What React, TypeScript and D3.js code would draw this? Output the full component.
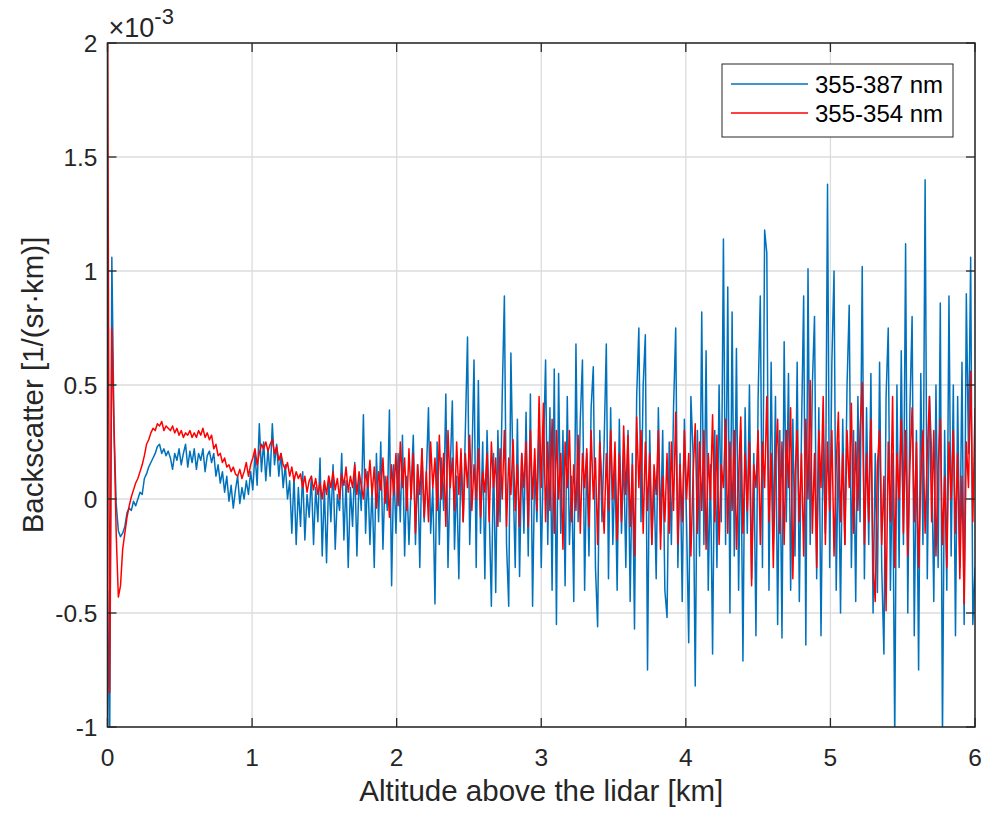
import React from 'react';
import * as d3 from 'd3';

// altitude grid step of the profiles [km]
const altStep = 0.015;

// 355-387 nm backscatter (x1e-3 1/(sr km)), one value per altStep
const blueVals = [
  -0.4, -1.1, 1.06, 0.32, -0.02, -0.14, -0.165, -0.15, -0.12, -0.06, -0.04, -0.05, -0.01, -0.03, 0.0, 0.03, 0.02, 0.09, 0.11, 0.14,
  0.16, 0.18, 0.2, 0.23, 0.24, 0.2, 0.22, 0.19, 0.21, 0.18, 0.13, 0.2, 0.17, 0.22, 0.15, 0.2, 0.24, 0.14, 0.21, 0.16,
  0.22, 0.13, 0.2, 0.17, 0.22, 0.12, 0.19, 0.21, 0.16, 0.2, 0.1, 0.15, 0.07, 0.12, 0.03, 0.1, -0.01, 0.06, -0.04, 0.04,
  0.1, -0.02, 0.05, 0.0, 0.08, 0.02, 0.12, 0.04, 0.2, 0.06, 0.33, 0.12, 0.25, 0.08, 0.22, 0.1, 0.33, 0.15, 0.24, 0.1,
  0.2, 0.05, 0.15, 0.0, 0.08, -0.15, 0.1, -0.2, 0.05, -0.12, 0.12, -0.18, 0.02, -0.08, 0.1, -0.2, 0.05, -0.1, 0.18, -0.25,
  0.05, -0.28, 0.1, -0.1, 0.15, -0.22, 0.02, -0.05, 0.2, -0.18, 0.08, -0.3, 0.05, -0.12, 0.16, -0.25, 0.1, -0.05, 0.37, -0.15,
  0.12, -0.2, 0.05, -0.3, 0.2, -0.1, 0.25, -0.22, 0.1, -0.05, 0.39, -0.38, 0.15, -0.15, 0.2, -0.1, 0.28, -0.25, 0.1, -0.2,
  0.05, 0.28, -0.2, 0.15, -0.3, 0.22, -0.1, 0.1, 0.4, -0.15, 0.05, -0.46, 0.25, -0.2, 0.18, -0.05, 0.46, -0.3, 0.12, 0.43,
  -0.22, 0.1, -0.35, 0.2, -0.1, 0.3, 0.71, -0.2, 0.15, 0.61, -0.3, 0.52, -0.15, 0.25, -0.35, 0.3, -0.05, -0.47, 0.2, -0.41,
  0.3, -0.1, 0.45, 0.89, -0.2, -0.47, 0.64, 0.1, -0.3, 0.35, -0.34, 0.2, -0.15, 0.38, -0.25, 0.46, -0.47, 0.15, -0.1, 0.35,
  -0.3, 0.2, 0.61, -0.2, 0.4, -0.4, 0.57, -0.55, 0.55, -0.15, 0.3, -0.38, 0.45, -0.2, 0.1, -0.45, 0.68, -0.1, 0.35, 0.61,
  -0.4, 0.2, -0.25, 0.4, 0.58, -0.3, -0.56, 0.3, -0.1, 0.25, 0.68, -0.35, 0.4, -0.2, 0.15, -0.4, 0.35, -0.15, 0.2, -0.3,
  0.3, -0.45, 0.2, -0.57, 0.45, 0.75, -0.1, 0.5, 0.72, -0.75, 0.3, -0.2, 0.1, -0.35, 0.4, -0.15, 0.3, -0.4, -0.52, 0.25,
  -0.2, 0.4, 0.75, -0.3, 0.2, -0.45, 0.35, -0.1, -0.63, 0.45, 0.2, -0.82, 0.3, -0.25, 0.82, -0.2, 0.65, -0.4, 0.15, -0.68,
  0.3, -0.3, 0.5, -0.1, 1.14, -0.2, 0.93, -0.5, 0.82, -0.25, 0.66, -0.4, 0.3, -0.71, 0.4, -0.15, 0.5, -0.35, 0.2, -0.6,
  0.45, 0.89, -0.3, 1.18, 1.08, -0.4, 0.6, -0.2, 0.45, -0.55, 0.3, -0.61, 0.69, -0.1, 0.55, -0.4, 0.35, -0.25, 0.6, -0.45,
  0.3, 0.89, -0.64, 1.01, -0.2, 0.5, 0.8, -0.35, 0.4, -0.6, 0.3, -0.15, 1.38, -0.3, 0.6, 1.0, -0.4, 0.25, -0.5, 0.35,
  -0.2, 0.5, 0.85, -0.3, 0.3, -0.45, 0.45, -0.1, 1.02, -0.35, 0.4, -0.2, 0.55, -0.5, 0.2, -0.41, 0.6, -0.3, -0.68, 0.45,
  0.75, -0.4, 0.2, -1.05, 0.5, -0.3, 0.65, -0.2, 1.12, -0.5, 0.4, 0.8, -0.6, 0.3, -0.75, 0.55, -0.2, 1.4, -0.35, 0.45,
  0.2, -0.45, 0.5, -0.3, 0.86, -1.05, 0.3, -0.4, 0.89, -0.25, 0.5, -0.6, 0.45, -0.3, 0.6, -0.55, 0.9, 0.2, 1.06, -0.55,
  -0.3,
];

// 355-354 nm backscatter (x1e-3 1/(sr km))
const redVals = [
  2.3, -0.85, 0.75, 0.3, -0.15, -0.43, -0.38, -0.22, -0.15, -0.08, -0.03, 0.01, 0.04, 0.07, 0.09, 0.12, 0.15, 0.19, 0.24, 0.26,
  0.29, 0.31, 0.3, 0.33, 0.32, 0.34, 0.3, 0.32, 0.31, 0.3, 0.32, 0.29, 0.31, 0.28, 0.3, 0.27, 0.29, 0.28, 0.3, 0.27,
  0.29, 0.27, 0.3, 0.28, 0.31, 0.27, 0.29, 0.26, 0.28, 0.22, 0.24, 0.19, 0.2, 0.16, 0.18, 0.14, 0.15, 0.12, 0.14, 0.11,
  0.1, 0.13, 0.09, 0.12, 0.16, 0.1, 0.15, 0.18, 0.22, 0.15, 0.2, 0.24, 0.22, 0.25, 0.21, 0.24, 0.26, 0.2, 0.23, 0.17,
  0.2, 0.15, 0.13, 0.16, 0.1, 0.14, 0.08, 0.12, 0.09, 0.11, 0.05, 0.1, 0.03, 0.08, 0.1, 0.04, 0.09, 0.02, 0.07, 0.0,
  0.08, 0.02, 0.1, 0.05, 0.12, 0.04, 0.09, 0.0, 0.11, 0.06, 0.14, 0.03, 0.1, 0.05, 0.15, 0.02, 0.12, 0.06, 0.0, 0.13,
  0.05, 0.17, 0.02, 0.14, -0.04, 0.12, 0.04, 0.18, -0.02, 0.1, -0.08, 0.15, 0.02, 0.2, -0.03, 0.25, 0.05, 0.18, -0.05, 0.22,
  0.0, 0.2, -0.15, 0.15, 0.02, 0.22, -0.08, 0.12, -0.1, 0.25, 0.05, 0.18, -0.05, 0.28, 0.0, 0.2, -0.12, 0.3, 0.05, 0.18,
  -0.05, 0.25, 0.02, 0.22, -0.1, 0.2, 0.05, 0.28, -0.05, 0.15, 0.0, 0.22, -0.08, 0.12, 0.03, 0.2, -0.1, 0.25, 0.05, 0.18,
  -0.12, 0.22, 0.0, 0.3, -0.12, 0.18, 0.02, 0.26, -0.05, 0.15, -0.12, 0.2, 0.05, 0.25, -0.12, 0.3, 0.0, 0.22, -0.05, 0.45,
  0.05, 0.42, -0.1, 0.25, -0.05, 0.35, -0.15, 0.3, 0.0, 0.2, -0.22, 0.25, 0.05, 0.3, -0.1, 0.15, -0.05, 0.28, -0.15, 0.2,
  0.05, 0.22, -0.12, 0.3, 0.0, 0.18, -0.2, 0.25, 0.05, -0.15, 0.2, -0.05, 0.3, 0.0, 0.25, -0.18, 0.2, -0.1, 0.32, 0.02,
  0.28, -0.12, 0.15, -0.25, 0.36, 0.05, 0.3, -0.15, 0.25, -0.05, 0.2, -0.2, 0.15, 0.02, 0.3, -0.22, 0.1, -0.1, 0.2, -0.15,
  0.25, -0.05, 0.38, -0.2, 0.15, -0.1, 0.3, 0.0, 0.2, -0.25, 0.1, 0.33, -0.15, 0.25, -0.05, 0.3, -0.22, 0.2, 0.0, 0.37,
  -0.1, 0.28, -0.2, 0.15, 0.05, 0.35, -0.15, 0.25, -0.05, 0.3, -0.22, 0.1, 0.36, -0.15, 0.2, -0.05, 0.25, -0.38, 0.15, 0.05,
  0.3, -0.2, 0.25, 0.05, 0.45, -0.1, 0.2, -0.3, 0.15, 0.35, -0.15, 0.25, -0.2, 0.3, 0.05, 0.4, -0.35, 0.1, 0.3, -0.1,
  0.2, -0.25, 0.35, 0.0, 0.52, -0.15, 0.2, -0.3, 0.3, 0.05, 0.45, -0.2, 0.25, -0.05, 0.3, -0.25, 0.15, 0.38, -0.1, 0.2,
  -0.2, 0.3, 0.05, 0.42, -0.15, 0.25, -0.05, 0.3, 0.51, -0.2, 0.2, -0.1, 0.35, -0.3, -0.45, 0.15, 0.3, -0.2, 0.1, -0.49,
  0.25, -0.1, 0.45, -0.3, 0.2, 0.0, 0.35, -0.15, 0.3, -0.25, 0.15, 0.4, -0.1, 0.25, -0.3, 0.1, 0.3, -0.15, 0.2, 0.45,
  -0.1, 0.3, -0.25, 0.15, 0.35, -0.2, 0.1, -0.3, 0.25, 0.0, 0.3, -0.15, 0.2, -0.35, 0.1, -0.46, 0.25, 0.05, 0.56, -0.1,
  0.4,
];

const xTicks = [0, 1, 2, 3, 4, 5, 6];
const yTicks = [-1, -0.5, 0, 0.5, 1, 1.5, 2];
const seriesNames = ['355-387 nm', '355-354 nm'];
const seriesColors = ['#0072BD', '#FF0000'];

const W = 987;
const H = 816;
const m = { left: 107.5, right: 975, top: 43, bottom: 727 };
const font = '"Liberation Sans", Arial, Helvetica, sans-serif';

const App = () => {
  const x = d3.scaleLinear().domain([0, 6]).range([m.left, m.right]);
  const y = d3.scaleLinear().domain([-1, 2]).range([m.bottom, m.top]);

  const line = d3.line<number>()
    .x((_, i) => x(i * altStep))
    .y(d => y(d));

  const tick = 9;
  const axisColor = '#262626';

  return (
    <div style={{ position: 'absolute', left: 0, top: 0 }}>
      <svg width={W} height={H} style={{ display: 'block', background: '#fff' }} fontFamily={font}>
        <defs>
          <clipPath id="plotArea">
            <rect x={m.left} y={m.top} width={m.right - m.left} height={m.bottom - m.top} />
          </clipPath>
        </defs>

        {/* grid */}
        {xTicks.map(t => (
          <line key={'gx' + t} x1={x(t)} x2={x(t)} y1={m.top} y2={m.bottom} stroke="#dcdcdc" strokeWidth={1.3} />
        ))}
        {yTicks.map(t => (
          <line key={'gy' + t} x1={m.left} x2={m.right} y1={y(t)} y2={y(t)} stroke="#dcdcdc" strokeWidth={1.3} />
        ))}

        {/* data */}
        <g clipPath="url(#plotArea)">
          <path d={line(blueVals) || ''} fill="none" stroke={seriesColors[0]} strokeWidth={1.5} strokeLinejoin="round" />
          <path d={line(redVals) || ''} fill="none" stroke={seriesColors[1]} strokeWidth={1.5} strokeLinejoin="round" />
        </g>

        {/* ticks (inward, mirrored) */}
        {xTicks.map(t => (
          <g key={'tx' + t} stroke={axisColor} strokeWidth={1.3}>
            <line x1={x(t)} x2={x(t)} y1={m.bottom} y2={m.bottom - tick} />
            <line x1={x(t)} x2={x(t)} y1={m.top} y2={m.top + tick} />
          </g>
        ))}
        {yTicks.map(t => (
          <g key={'ty' + t} stroke={axisColor} strokeWidth={1.3}>
            <line x1={m.left} x2={m.left + tick} y1={y(t)} y2={y(t)} />
            <line x1={m.right} x2={m.right - tick} y1={y(t)} y2={y(t)} />
          </g>
        ))}

        {/* box */}
        <rect x={m.left} y={m.top} width={m.right - m.left} height={m.bottom - m.top}
          fill="none" stroke={axisColor} strokeWidth={1.5} />

        {/* tick labels */}
        {xTicks.map(t => (
          <text key={'lx' + t} x={x(t)} y={m.bottom + 39} textAnchor="middle" fontSize={24.5} fill={axisColor}>
            {t}
          </text>
        ))}
        {yTicks.map(t => (
          <text key={'ly' + t} x={m.left - 10} y={y(t) + 8.5} textAnchor="end" fontSize={24.5} fill={axisColor}>
            {t}
          </text>
        ))}

        {/* exponent */}
        <text x={m.left + 1} y={m.top - 6} fontSize={27} fill={axisColor}>
          ×10
          <tspan dy={-13} fontSize={22}>-3</tspan>
        </text>

        {/* axis labels */}
        <text x={(m.left + m.right) / 2} y={801} textAnchor="middle" fontSize={29.5} fill={axisColor}>
          Altitude above the lidar [km]
        </text>
        <text transform={`translate(43,${(m.top + m.bottom) / 2}) rotate(-90)`} textAnchor="middle" fontSize={29.5} fill={axisColor}>
          Backscatter [1/(sr·km)]
        </text>

        {/* legend */}
        <g>
          <rect x={722} y={64} width={231} height={73} fill="#fff" stroke={axisColor} strokeWidth={1} />
          {seriesNames.map((name, i) => (
            <g key={name}>
              <line x1={731} x2={808} y1={84 + i * 29} y2={84 + i * 29} stroke={seriesColors[i]} strokeWidth={1.4} />
              <text x={815} y={84 + i * 29 + 8.5} fontSize={24} fill="#000">{name}</text>
            </g>
          ))}
        </g>
      </svg>
    </div>
  );
};

export default App;
